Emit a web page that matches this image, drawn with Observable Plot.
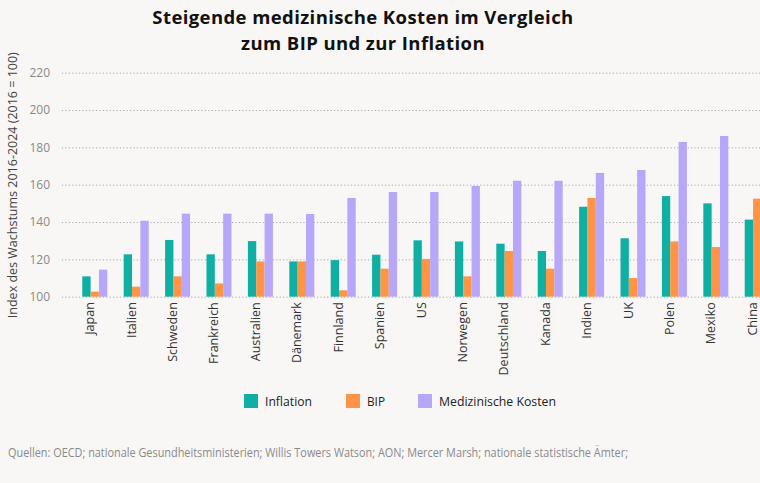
<!DOCTYPE html>
<html>
<head>
<meta charset="utf-8">
<script src="https://cdn.jsdelivr.net/npm/d3@7"></script>
<script src="https://cdn.jsdelivr.net/npm/@observablehq/plot@0.6"></script>
<style>
  html, body { margin: 0; padding: 0; }
  body { width: 760px; height: 483px; overflow: hidden; position: relative; background: #f8f7f5; font-family: "Open Sans", sans-serif; }
  #title { position: absolute; top: 4px; left: 0; width: 726px; text-align: center; font-weight: 700; font-size: 18.5px; letter-spacing: 0.4px; line-height: 25.5px; color: #111; }
  #chart { position: absolute; top: 60px; left: 0; width: 790px; }
  #chart svg { max-width: none !important; overflow: visible !important; }
  #legend { position: absolute; top: 0; left: 0; width: 760px; height: 483px; pointer-events: none; }
  .sw { position: absolute; width: 14px; height: 14px; top: 394px; }
  .lt { position: absolute; top: 392px; font-size: 13.5px; line-height: 18px; color: #222; white-space: nowrap; transform-origin: left center; }
  #caption { position: absolute; left: 8px; top: 444px; font-size: 12px; line-height: 18px; color: #8a8a8a; white-space: nowrap; transform-origin: left center; }
</style>
</head>
<body>
<div id="title">Steigende medizinische Kosten im Vergleich<br>zum BIP und zur Inflation</div>
<div id="chart"></div>
<div id="legend"></div>
<div id="caption">Quellen: OECD; nationale Gesundheitsministerien; Willis Towers Watson; AON; Mercer Marsh; nationale statistische Ämter;</div>
<script>
// ---- data ----
const countries = ["Japan", "Italien", "Schweden", "Frankreich", "Australien", "Dänemark", "Finnland", "Spanien", "US", "Norwegen", "Deutschland", "Kanada", "Indien", "UK", "Polen", "Mexiko", "China"];
const inflation = [110.9, 122.7, 130.4, 122.7, 129.8, 118.9, 119.6, 122.5, 130.2, 129.6, 128.4, 124.5, 148.2, 131.3, 153.9, 150.0, 141.3];
const bip       = [102.7, 105.4, 110.9, 107.1, 118.9, 118.9, 103.4, 115.0, 120.2, 110.9, 124.5, 115.0, 152.9, 110.0, 129.6, 126.6, 152.5];
const medizin   = [114.5, 140.7, 144.5, 144.5, 144.5, 144.3, 152.9, 156.1, 156.1, 159.3, 162.1, 162.1, 166.3, 167.9, 182.9, 186.1, null]; // China: outside the visible area
const seriesNames = ["Inflation", "BIP", "Medizinische Kosten"];
const seriesColors = ["#10afa4", "#fd9446", "#b8a6f8"];
const yTicks = [100, 120, 140, 160, 180, 200, 220];
const baseline = 100;

// ---- layout ----
const W = 790, H = 330, ML = 62, MR = 0, MT = 12.7, MB = 93.3;
const padIn = 0.396, padOut = 0.49;
const step = (W - ML - MR) / (countries.length - padIn + 2 * padOut);
const bw = step * (1 - padIn);
const sub = bw / 3;

const seriesValues = [inflation, bip, medizin];
const barMarks = seriesValues.map((vals, i) =>
  Plot.barY(countries.map((c, j) => ({country: c, v: vals[j]})).filter(d => d.v != null), {
    x: "country",
    y1: baseline,
    y2: "v",
    fill: seriesColors[i],
    insetLeft: sub * i,
    insetRight: sub * (2 - i)
  })
);

const plot = Plot.plot({
  width: W,
  height: H,
  marginLeft: ML,
  marginRight: MR,
  marginTop: MT,
  marginBottom: MB,
  style: { background: "transparent", fontFamily: "Open Sans, sans-serif", maxWidth: "none", overflow: "visible" },
  x: { domain: countries, paddingInner: padIn, paddingOuter: padOut, round: false },
  y: { domain: [100, 220] },
  marks: [
    Plot.ruleY(yTicks, { stroke: "#a9a9a9", strokeDasharray: "1.2,2.2", strokeWidth: 1 }),
    ...barMarks,
    Plot.axisY({ ticks: yTicks, tickSize: 0, tickPadding: 12.5, fontSize: 12, fill: "#8a8a8a",
      label: "Index des Wachstums 2016-2024 (2016 = 100)", labelAnchor: "center", labelArrow: "none", labelOffset: 54 }),
    Plot.axisX({ tickRotate: -90, tickSize: 0, tickPadding: 5, dx: -5, fontSize: 12.5, fill: "#333", label: null })
  ]
});
document.getElementById("chart").appendChild(plot);

// axis label colour / size
plot.querySelectorAll("[aria-label='y-axis label']").forEach(el => {
  el.setAttribute("fill", "#444");
  el.setAttribute("font-size", "12.5");
});

// ---- legend ----
const legend = document.getElementById("legend");
const swX = [244, 346, 418];
seriesNames.forEach((name, i) => {
  const s = document.createElement("div");
  s.className = "sw";
  s.style.left = swX[i] + "px";
  s.style.background = seriesColors[i];
  legend.appendChild(s);
  const t = document.createElement("div");
  t.className = "lt";
  t.style.left = (swX[i] + 21) + "px";
  t.textContent = name;
  legend.appendChild(t);
});
// condensed look for legend & caption
const lts = legend.querySelectorAll(".lt");
const legendWidths = [47, 18, 117];
lts.forEach((el, i) => { const w = el.getBoundingClientRect().width; el.style.transform = `scaleX(${legendWidths[i] / w})`; });
const cap = document.getElementById("caption");
const cw = cap.getBoundingClientRect().width;
cap.style.transform = `scaleX(${620 / cw})`;
</script>
</body>
</html>
